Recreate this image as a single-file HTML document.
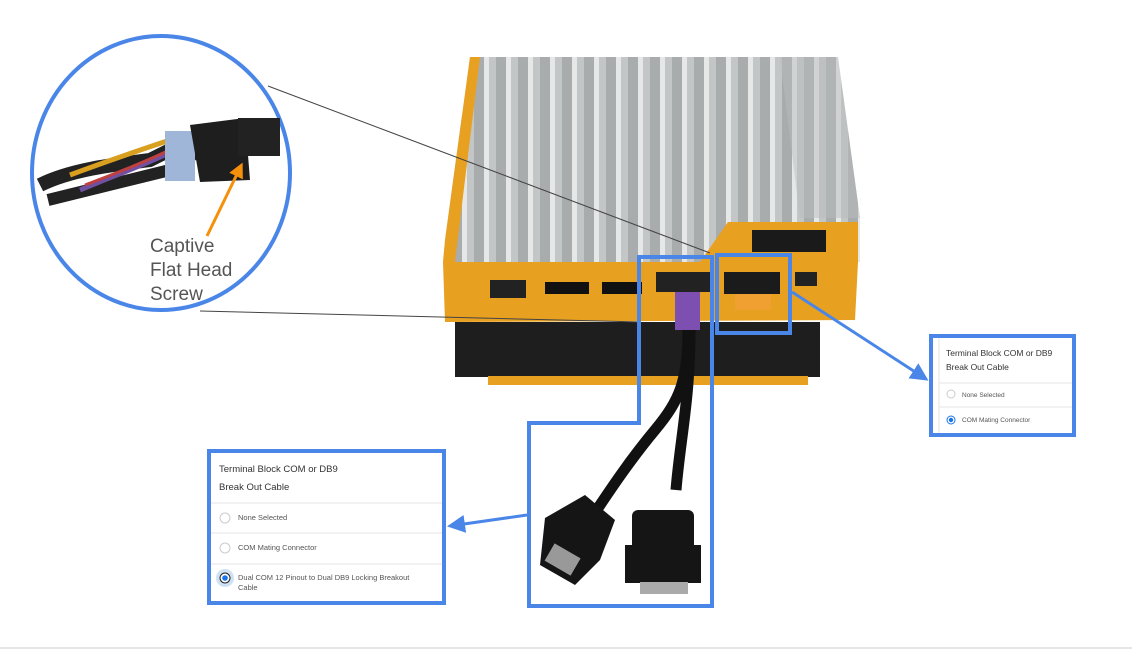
<!DOCTYPE html>
<html><head><meta charset="utf-8"><style>
html,body{margin:0;padding:0;background:#fff;}
body{width:1132px;height:651px;overflow:hidden;font-family:"Liberation Sans",sans-serif;}
</style></head><body>
<svg width="1132" height="651" viewBox="0 0 1132 651" xmlns="http://www.w3.org/2000/svg">
<defs>
<pattern id="fins" x="0" y="0" width="22" height="10" patternUnits="userSpaceOnUse">
<rect width="22" height="10" fill="#a9acad"/>
<rect x="0" width="5" height="10" fill="#e6e8e8"/>
<rect x="5" width="7" height="10" fill="#c3c6c6"/>
</pattern>
<marker id="ah" markerWidth="6" markerHeight="6" refX="5" refY="3" orient="auto" markerUnits="strokeWidth"><path d="M0,0 L6,3 L0,6 z" fill="#4a86e8"/></marker>
<marker id="ah2" markerWidth="5" markerHeight="5" refX="3" refY="2.5" orient="auto"><path d="M0,0 L5,2.5 L0,5 z" fill="#f5900a"/></marker>
</defs>

<!-- device -->
<polygon points="470,57 838,57 860,218 860,262 443,262 445,240" fill="url(#fins)"/>
<polygon points="470,57 480,57 455,262 443,262 445,240" fill="#e8a020"/>
<polygon points="838,57 860,218 800,218 780,57" fill="#b9bcbd" opacity="0.5"/>
<polygon points="700,262 728,222 858,222 858,262" fill="#e8a020"/>
<rect x="752" y="230" width="74" height="22" fill="#1a1a1a"/>
<polygon points="443,262 858,262 855,320 445,322" fill="#e8a020"/>
<rect x="490" y="280" width="36" height="18" fill="#222"/>
<rect x="545" y="282" width="44" height="12" fill="#111"/>
<rect x="602" y="282" width="40" height="12" fill="#111"/>
<rect x="656" y="272" width="56" height="20" fill="#222"/>
<rect x="724" y="272" width="56" height="22" fill="#1b1b1b"/>
<rect x="735" y="294" width="36" height="16" fill="#f0a030"/>
<rect x="795" y="272" width="22" height="14" fill="#222"/>
<rect x="455" y="322" width="365" height="55" fill="#1e1e1e"/>
<rect x="488" y="376" width="320" height="9" fill="#e8a020"/>
<path d="M675,292 L700,292 L700,330 L675,330 Z" fill="#7c4fb0"/>

<!-- cables -->
<path d="M688,330 C688,380 680,400 655,430 C630,460 610,490 590,520" stroke="#111" stroke-width="11" fill="none"/>
<path d="M690,330 C690,400 680,440 676,490" stroke="#111" stroke-width="11" fill="none"/>
<polygon points="545,518 585,495 615,520 600,560 575,585 540,565" fill="#151515"/>
<rect x="548" y="548" width="30" height="20" fill="#999" transform="rotate(30 560 558)"/>
<rect x="632" y="510" width="62" height="72" rx="6" fill="#151515"/>
<rect x="625" y="545" width="76" height="38" fill="#151515"/>
<rect x="640" y="582" width="48" height="12" fill="#aaa"/>

<!-- leader lines -->
<line x1="268" y1="86" x2="710" y2="253" stroke="#444" stroke-width="1"/>
<line x1="200" y1="311" x2="640" y2="322" stroke="#444" stroke-width="1"/>

<!-- circle -->
<ellipse cx="161" cy="173" rx="129" ry="137" fill="#fff" stroke="#4a86e8" stroke-width="4"/>
<path d="M40,185 C70,170 110,165 150,160 L190,140" stroke="#222" stroke-width="14" fill="none"/>
<path d="M48,200 C90,190 130,180 170,170 L200,150" stroke="#222" stroke-width="12" fill="none"/>
<path d="M70,175 C110,160 140,150 170,140" stroke="#d9a020" stroke-width="5" fill="none"/>
<path d="M80,190 C115,175 145,165 175,150" stroke="#7050a0" stroke-width="5" fill="none"/>
<path d="M85,185 C120,172 150,160 180,145" stroke="#c04040" stroke-width="3" fill="none"/>
<rect x="165" y="131" width="30" height="50" fill="#9fb6d8"/>
<polygon points="190,125 245,118 250,180 200,182" fill="#1e1e1e"/>
<rect x="238" y="118" width="42" height="38" fill="#222"/>
<line x1="207" y1="236" x2="240" y2="168" stroke="#f5900a" stroke-width="3" marker-end="url(#ah2)"/>
<text font-family="Liberation Sans, sans-serif" font-size="19" fill="#555"><tspan x="150" y="252">Captive</tspan><tspan x="150" y="276">Flat Head</tspan><tspan x="150" y="300">Screw</tspan></text>

<!-- blue outlines -->
<polygon points="639,257 712,257 712,606 529,606 529,423 639,423" fill="none" stroke="#4a86e8" stroke-width="4"/>
<rect x="717" y="255" width="73" height="78" fill="none" stroke="#4a86e8" stroke-width="4"/>
<line x1="792" y1="292" x2="926" y2="379" stroke="#4a86e8" stroke-width="3" marker-end="url(#ah)"/>
<line x1="527" y1="515" x2="450" y2="526" stroke="#4a86e8" stroke-width="3" marker-end="url(#ah)"/>

<!-- right panel -->
<rect x="931" y="336" width="143" height="99" fill="#fff" stroke="#4a86e8" stroke-width="4"/>
<line x1="939" y1="338" x2="939" y2="433" stroke="#e6e6e6"/>
<g font-family="Liberation Sans, sans-serif" fill="#333">
<text x="946" y="356" font-size="8.5">Terminal Block COM or DB9</text>
<text x="946" y="370" font-size="8.5">Break Out Cable</text>
<line x1="939" y1="383" x2="1072" y2="383" stroke="#e6e6e6"/>
<circle cx="951" cy="394" r="4" fill="#fff" stroke="#ccc"/>
<text x="962" y="397" font-size="6.5" fill="#555">None Selected</text>
<line x1="939" y1="407" x2="1072" y2="407" stroke="#e6e6e6"/>
<circle cx="951" cy="420" r="4" fill="#fff" stroke="#1a73e8"/>
<circle cx="951" cy="420" r="2.2" fill="#1a73e8"/>
<text x="962" y="422" font-size="6.5" fill="#555">COM Mating Connector</text>
</g>

<!-- left panel -->
<rect x="209" y="451" width="235" height="152" fill="#fff" stroke="#4a86e8" stroke-width="4"/>
<g font-family="Liberation Sans, sans-serif" fill="#333">
<text x="219" y="472" font-size="9.5">Terminal Block COM or DB9</text>
<text x="219" y="490" font-size="9.5">Break Out Cable</text>
<line x1="211" y1="503" x2="442" y2="503" stroke="#e6e6e6"/>
<circle cx="225" cy="518" r="5" fill="#fff" stroke="#ccc"/>
<text x="238" y="520" font-size="7.5" fill="#555">None Selected</text>
<line x1="211" y1="533" x2="442" y2="533" stroke="#e6e6e6"/>
<circle cx="225" cy="548" r="5" fill="#fff" stroke="#ccc"/>
<text x="238" y="550" font-size="7.5" fill="#555">COM Mating Connector</text>
<line x1="211" y1="564" x2="442" y2="564" stroke="#e6e6e6"/>
<circle cx="225" cy="578" r="9" fill="#cfe2f3"/>
<circle cx="225" cy="578" r="5" fill="#fff" stroke="#222"/>
<circle cx="225" cy="578" r="2.8" fill="#1a73e8"/>
<text x="238" y="580" font-size="7.5" fill="#555">Dual COM 12 Pinout to Dual DB9 Locking Breakout</text>
<text x="238" y="590" font-size="7.5" fill="#555">Cable</text>
</g>

<line x1="0" y1="648" x2="1132" y2="648" stroke="#ccc"/>
</svg>
</body></html>
